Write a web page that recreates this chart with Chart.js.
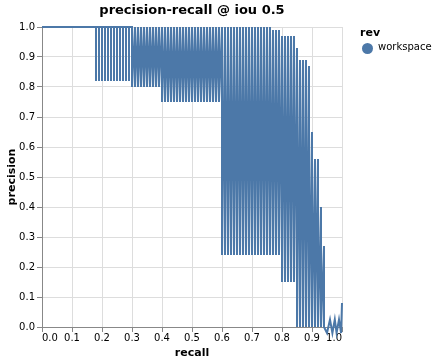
<!DOCTYPE html>
<html lang="en">
<head>
  <meta charset="UTF-8" />
  <title>precision-recall @ iou 0.5</title>
  <script src="https://cdn.jsdelivr.net/npm/chart.js"></script>
  <style>
    body {
      margin: 0;
      background: #fff;
      font-family: 'DejaVu Sans', sans-serif;
    }
    .wrap {
      position: relative;
      width: 435px;
      height: 364px;
    }
    /* legend, placed to the right of the plot like vega does it */
    .legend-title {
      position: absolute;
      left: 360px;
      top: 32.5px;
      line-height: 0;
      font-size: 11px;
      font-weight: bold;
      color: #000;
    }
    .legend-dot {
      position: absolute;
      left: 362px;
      top: 42.5px;
      width: 11px;
      height: 11px;
      border-radius: 50%;
      background: #4c78a8;
    }
    .legend-label {
      position: absolute;
      left: 378px;
      top: 47px;
      line-height: 0;
      font-size: 10px;
      color: #000;
      white-space: nowrap;
    }
  </style>
</head>
<body>
  <div class="wrap">
    <canvas id="pr" width="435" height="364"></canvas>
    <div class="legend-title">rev</div>
    <div class="legend-dot"></div>
    <div class="legend-label">workspace</div>
  </div>

  <script>
    // flat start of the curve
    const startRecall = [0.0];
    const startPrecision = [1.0];

    // spikes hanging from the top line
    const spikeRecall = [0.18, 0.19, 0.20, 0.21, 0.22, 0.23, 0.24, 0.25, 0.26, 0.27, 0.28, 0.29];
    const spikeLow = [0.82, 0.82, 0.82, 0.82, 0.82, 0.82, 0.82, 0.82, 0.82, 0.82, 0.82, 0.82];

    // sawtooth part: at each recall precision drops from high to low
    const sawRecall = [
      0.30, 0.31, 0.32, 0.33, 0.34, 0.35, 0.36, 0.37, 0.38, 0.39,
      0.40, 0.41, 0.42, 0.43, 0.44, 0.45, 0.46, 0.47, 0.48, 0.49,
      0.50, 0.51, 0.52, 0.53, 0.54, 0.55, 0.56, 0.57, 0.58, 0.59,
      0.60, 0.61, 0.62, 0.63, 0.64, 0.65, 0.66, 0.67, 0.68, 0.69,
      0.70, 0.71, 0.72, 0.73, 0.74, 0.75, 0.76, 0.77, 0.78, 0.79,
      0.80, 0.81, 0.82, 0.83, 0.84, 0.85, 0.86, 0.87, 0.88, 0.89,
      0.90, 0.91, 0.92, 0.93, 0.94
    ];
    const sawHigh = [
      1.00, 1.00, 1.00, 1.00, 1.00, 1.00, 1.00, 1.00, 1.00, 1.00,
      1.00, 1.00, 1.00, 1.00, 1.00, 1.00, 1.00, 1.00, 1.00, 1.00,
      1.00, 1.00, 1.00, 1.00, 1.00, 1.00, 1.00, 1.00, 1.00, 1.00,
      1.00, 1.00, 1.00, 1.00, 1.00, 1.00, 1.00, 1.00, 1.00, 1.00,
      1.00, 1.00, 1.00, 1.00, 1.00, 1.00, 1.00, 0.99, 0.99, 0.99,
      0.97, 0.97, 0.97, 0.97, 0.97, 0.93, 0.89, 0.89, 0.89, 0.87,
      0.65, 0.56, 0.56, 0.40, 0.27
    ];
    const sawLow = [
      0.80, 0.80, 0.80, 0.80, 0.80, 0.80, 0.80, 0.80, 0.80, 0.80,
      0.75, 0.75, 0.75, 0.75, 0.75, 0.75, 0.75, 0.75, 0.75, 0.75,
      0.75, 0.75, 0.75, 0.75, 0.75, 0.75, 0.75, 0.75, 0.75, 0.75,
      0.24, 0.24, 0.24, 0.24, 0.24, 0.24, 0.24, 0.24, 0.24, 0.24,
      0.24, 0.24, 0.24, 0.24, 0.24, 0.24, 0.24, 0.24, 0.24, 0.24,
      0.15, 0.15, 0.15, 0.15, 0.15, 0.00, 0.00, 0.00, 0.00, 0.00,
      0.00, 0.00, 0.00, 0.00, 0.00
    ];

    // small zigzag at the very end
    const tailRecall = [0.95, 0.96, 0.968, 0.976, 0.982, 0.99, 0.997, 1.0];
    const tailPrecision = [-0.02, 0.025, -0.02, 0.025, -0.02, 0.025, -0.02, 0.08];

    const axisTicks = [0.0, 0.1, 0.2, 0.3, 0.4, 0.5, 0.6, 0.7, 0.8, 0.9, 1.0];

    // build the point list in drawing order
    const points = [];
    startRecall.forEach((r, i) => points.push({ x: r, y: startPrecision[i] }));
    spikeRecall.forEach((r, i) => {
      points.push({ x: r, y: 1.0 }, { x: r, y: spikeLow[i] }, { x: r, y: 1.0 });
    });
    sawRecall.forEach((r, i) => {
      points.push({ x: r, y: sawHigh[i] }, { x: r, y: sawLow[i] });
    });
    tailRecall.forEach((r, i) => points.push({ x: r, y: tailPrecision[i] }));

    Chart.defaults.font.family = "'DejaVu Sans', sans-serif";
    Chart.defaults.color = '#000';

    const fixedTicks = (scale) => {
      scale.ticks = axisTicks.map(v => ({ value: v }));
    };

    new Chart(document.getElementById('pr'), {
      type: 'scatter',
      data: {
        datasets: [{
          label: 'workspace',
          data: points,
          showLine: true,
          borderColor: '#4c78a8',
          backgroundColor: '#4c78a8',
          borderWidth: 2,
          pointRadius: 0,
          pointHoverRadius: 0,
          tension: 0,
          clip: false
        }]
      },
      options: {
        responsive: false,
        animation: false,
        events: [],
        layout: { padding: { left: 0, right: 93, top: 0, bottom: 0 } },
        plugins: {
          legend: { display: false },
          tooltip: { enabled: false },
          title: {
            display: true,
            text: 'precision-recall @ iou 0.5',
            fullSize: false,
            color: '#000',
            font: { size: 13, weight: 'bold' },
            padding: { top: 3, bottom: 8.4 }
          }
        },
        scales: {
          x: {
            type: 'linear',
            min: 0,
            max: 1,
            afterBuildTicks: fixedTicks,
            afterFit: (s) => { s.height = 37; },
            ticks: {
              align: 'inner',
              padding: 0,
              font: { size: 10 },
              color: '#000',
              callback: v => v.toFixed(1)
            },
            grid: { color: '#ddd', tickColor: '#888', tickLength: 5 },
            border: { color: '#888' },
            title: {
              display: true,
              text: 'recall',
              font: { size: 11, weight: 'bold' },
              padding: { top: 0, bottom: 4 }
            }
          },
          y: {
            type: 'linear',
            min: 0,
            max: 1,
            afterBuildTicks: fixedTicks,
            afterFit: (s) => { s.width = 42; },
            ticks: {
              padding: 2,
              font: { size: 10 },
              color: '#000',
              callback: v => v.toFixed(1)
            },
            grid: { color: '#ddd', tickColor: '#888', tickLength: 5 },
            border: { color: '#888' },
            title: {
              display: true,
              text: 'precision',
              font: { size: 11, weight: 'bold' },
              padding: { top: 5.4, bottom: 0 }
            }
          }
        }
      }
    });
  </script>
</body>
</html>
